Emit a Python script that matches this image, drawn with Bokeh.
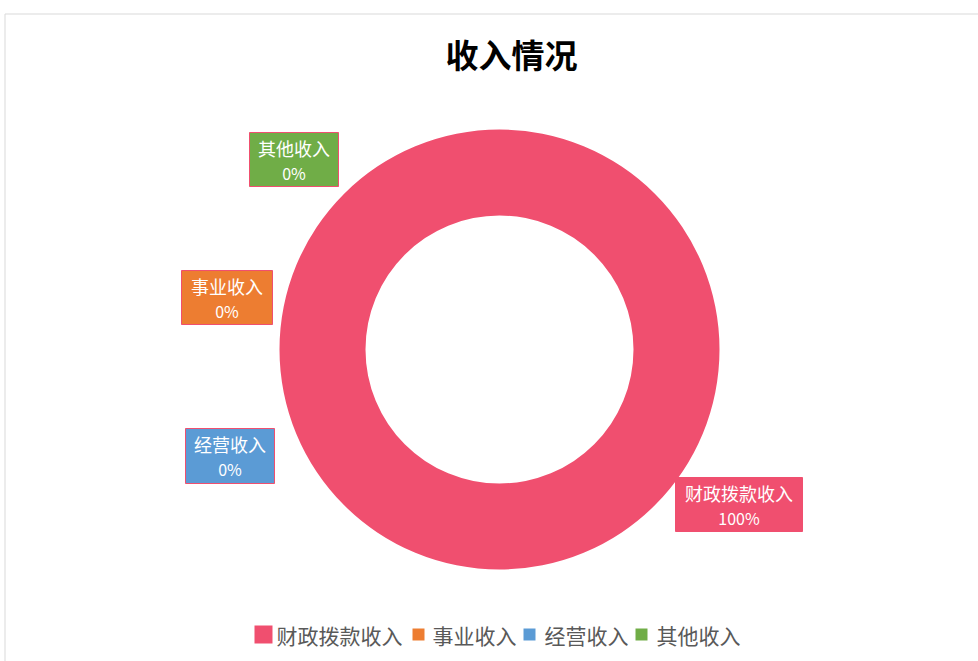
import numpy as np
from bokeh.plotting import figure
from bokeh.models import Range1d, ColumnDataSource
from bokeh.core.properties import value
from bokeh.embed import file_html
from bokeh.resources import INLINE

# ---- data ----
categories = ["财政拨款收入", "事业收入", "经营收入", "其他收入"]
values = [100, 0, 0, 0]
pct_labels = ["100%", "0%", "0%", "0%"]
colors = ["#F04F6F", "#ED7D31", "#5B9BD5", "#70AD47"]
title_text = "收入情况"

W, H = 978, 661
FONT = "Noto Sans CJK SC"


def Y(py):
    return H - py


p = figure(width=W, height=H, x_range=Range1d(0, W), y_range=Range1d(0, H),
           output_backend="svg", toolbar_location=None, min_border=0,
           outline_line_color=None, background_fill_color="white",
           border_fill_color="white")
p.axis.visible = False
p.grid.visible = False

# chart frame
p.quad(left=[4.5], right=[W + 5], bottom=[Y(H + 5)], top=[Y(13.5)],
       fill_color=None, line_color="#D9D9D9", line_width=1)

# title
p.text(x=[511], y=[Y(53)], text=[title_text], text_align="center",
       text_baseline="middle", text_font=value(FONT), text_font_style="bold",
       text_font_size="33px", text_color="#000000")

# doughnut (clockwise from 12 o'clock); zero-size slices are skipped
vals = np.array(values, dtype=float)
frac = vals / vals.sum()
ends = np.pi / 2 - 2 * np.pi * np.cumsum(frac)
starts = np.concatenate([[np.pi / 2], ends[:-1]])
keep = vals > 0
cx, cy = 499, Y(349)
src = ColumnDataSource(dict(start=starts[keep], end=ends[keep],
                            color=np.array(colors)[keep]))
p.annular_wedge(x=cx, y=cy, inner_radius=134, outer_radius=220,
                start_angle="start", end_angle="end", direction="clock",
                fill_color="color", line_color=None, source=src)

# data labels (callout boxes)
box_l = [675, 181, 185, 249]
box_r = [802, 272, 274, 338]
box_t = [477, 270, 428, 132]
box_b = [531, 324, 483, 186]
for i in range(len(categories)):
    p.quad(left=[box_l[i]], right=[box_r[i]], top=[Y(box_t[i])], bottom=[Y(box_b[i])],
           fill_color=colors[i], line_color="#F04F6F", line_width=1)
    xc = (box_l[i] + box_r[i]) / 2
    yt = (box_t[i] + box_b[i]) / 2
    p.text(x=[xc], y=[Y(yt - 12)], text=[categories[i]], text_align="center",
           text_baseline="middle", text_font=value(FONT), text_font_size="18px",
           text_font_style="normal", text_color="white")
    p.text(x=[xc], y=[Y(yt + 13)], text=[pct_labels[i]], text_align="center",
           text_baseline="middle", text_font=value(FONT), text_font_size="16px",
           text_color="white")

# legend
leg_y = Y(634)
marker_x = [263, 418, 529, 641]
marker_size = [18, 12, 12, 12]
text_x = [276, 432, 544, 656]
p.scatter(x=marker_x, y=[leg_y] * 4, marker="square", size=marker_size,
          fill_color=colors, line_color=None)
p.text(x=text_x, y=[leg_y] * 4, text=categories, text_align="left",
       text_baseline="middle", text_font=value(FONT), text_font_size="21px",
       text_color="#595959")

open("out.html", "w").write(file_html(p, INLINE))
